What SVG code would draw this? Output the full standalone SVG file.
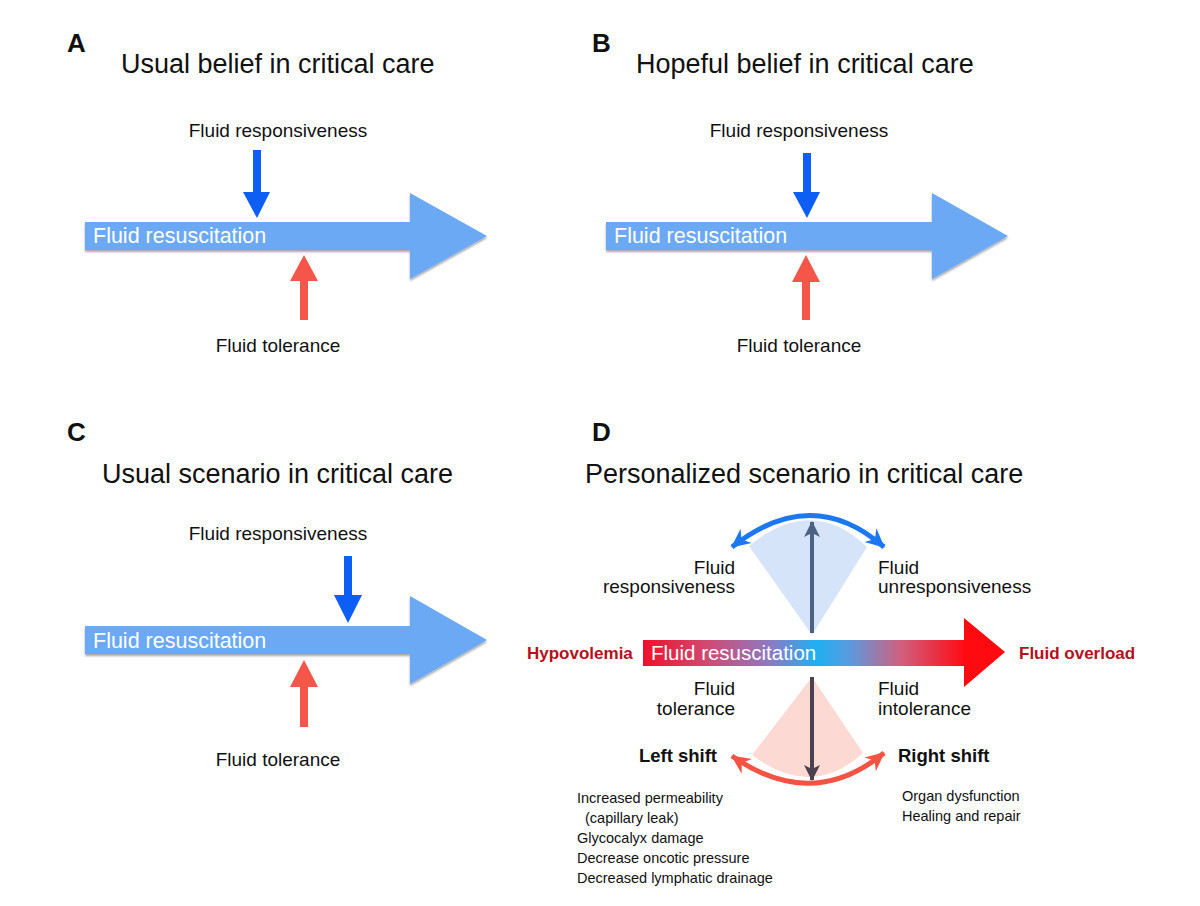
<svg xmlns="http://www.w3.org/2000/svg" width="1200" height="906" viewBox="0 0 1200 906">
<defs>
<style>
text{font-family:"Liberation Sans",Arial,Helvetica,sans-serif;fill:#111}
.letter{font-size:26px;font-weight:bold}
.title{font-size:27px}
.lbl{font-size:19px}
.body{fill:#6ca9f5;filter:url(#sh)}
.bt{font-size:21.5px;fill:#fff}
.down{fill:#0d5ef3}
.up{fill:#f4574a}
.bold{font-size:17px;font-weight:bold;fill:#b5101c}
.shift{font-size:18.5px;font-weight:bold}
.small{font-size:14.5px}
</style>
<filter id="sh" x="-5%" y="-20%" width="110%" height="150%">
<feDropShadow dx="0" dy="2" stdDeviation="1" flood-color="#000" flood-opacity="0.35"/>
</filter>
<linearGradient id="grad" gradientUnits="userSpaceOnUse" x1="643" y1="0" x2="965" y2="0">
<stop offset="0" stop-color="#f0102a"/>
<stop offset="0.2" stop-color="#d04a72"/>
<stop offset="0.4" stop-color="#8a7cc4"/>
<stop offset="0.54" stop-color="#1eb0f2"/>
<stop offset="0.64" stop-color="#5a9ae0"/>
<stop offset="0.8" stop-color="#d0607e"/>
<stop offset="1" stop-color="#ff0a14"/>
</linearGradient>
<marker id="mb" viewBox="-20 -11 22 22" refX="0" refY="0" markerWidth="22" markerHeight="22" markerUnits="userSpaceOnUse" orient="auto-start-reverse">
<path d="M1,0 L-18,-9 L-12,0 L-18,9 Z" fill="#1c78f0"/>
</marker>
<marker id="mr" viewBox="-20 -11 22 22" refX="0" refY="0" markerWidth="22" markerHeight="22" markerUnits="userSpaceOnUse" orient="auto-start-reverse">
<path d="M1,0 L-18,-9 L-12,0 L-18,9 Z" fill="#f25444"/>
</marker>
<marker id="md1" viewBox="-18 -10 20 20" refX="0" refY="0" markerWidth="20" markerHeight="20" markerUnits="userSpaceOnUse" orient="auto">
<path d="M1,0 L-15,-8 L-11,0 L-15,8 Z" fill="#4b6283"/>
</marker>
<marker id="md2" viewBox="-18 -10 20 20" refX="0" refY="0" markerWidth="20" markerHeight="20" markerUnits="userSpaceOnUse" orient="auto">
<path d="M1,0 L-15,-8 L-11,0 L-15,8 Z" fill="#4b4250"/>
</marker>
</defs>
<rect width="1200" height="906" fill="#fff"/>

<g id="panelA">
<text class="letter" x="67" y="52">A</text>
<text class="title" x="121" y="73">Usual belief in critical care</text>
<g id="A-resuscitation">
<polygon class="body" points="85,222 410,222 410,193 487,236 410,279 410,250 85,250"/>
<text class="bt" x="93" y="243">Fluid resuscitation</text>
</g>
<g id="A-responsiveness">
<text class="lbl" x="278" y="137" text-anchor="middle">Fluid responsiveness</text>
</g>
<g id="A-tolerance">
<text class="lbl" x="278" y="352" text-anchor="middle">Fluid tolerance</text>
</g>
</g>

<g id="panelB">
<text class="letter" x="592" y="52">B</text>
<text class="title" x="636" y="73">Hopeful belief in critical care</text>
<g id="B-resuscitation">
<polygon class="body" points="606,222 932,222 932,193 1008,236 932,279 932,250 606,250"/>
<text class="bt" x="614" y="243">Fluid resuscitation</text>
</g>
<g id="B-responsiveness">
<text class="lbl" x="799" y="137" text-anchor="middle">Fluid responsiveness</text>
</g>
<g id="B-tolerance">
<text class="lbl" x="799" y="352" text-anchor="middle">Fluid tolerance</text>
</g>
</g>

<g id="panelC">
<text class="letter" x="67" y="441">C</text>
<text class="title" x="102" y="483">Usual scenario in critical care</text>
<g id="C-resuscitation">
<polygon class="body" points="85,626 410,626 410,596 487,640 410,684 410,654 85,654"/>
<text class="bt" x="93" y="648">Fluid resuscitation</text>
</g>
<g id="C-responsiveness">
<text class="lbl" x="278" y="540" text-anchor="middle">Fluid responsiveness</text>
</g>
<g id="C-tolerance">
<text class="lbl" x="278" y="766" text-anchor="middle">Fluid tolerance</text>
</g>
</g>

<g id="panelD">
<text class="letter" x="592" y="441">D</text>
<text class="title" x="585" y="483">Personalized scenario in critical care</text>
<g id="D-upperfan">
<path d="M812,635 L749,546 Q812,494 867,547 Z" fill="#d5e4f8"/>
</g>
<g id="D-lowerfan">
<path d="M812,677 L752,755 Q812,800 863,753 Z" fill="#fdd9d3"/>
</g>
<g id="D-resuscitation">
<rect x="643" y="640" width="324" height="26" fill="url(#grad)"/>
<polygon points="964,618 1005,652 964,687" fill="#ff0a10"/>
<text x="651" y="660" style="font-size:20.5px;fill:#fff">Fluid resuscitation</text>
</g>
<g id="D-hypovolemia"><text class="bold" x="527" y="659">Hypovolemia</text></g>
<g id="D-overload"><text class="bold" x="1019" y="659">Fluid overload</text></g>
<g id="D-responsiveness">
<text class="lbl" x="735" y="574" text-anchor="end">Fluid</text>
<text class="lbl" x="735" y="593" text-anchor="end">responsiveness</text>
</g>
<g id="D-unresponsiveness">
<text class="lbl" x="878" y="574">Fluid</text>
<text class="lbl" x="878" y="593">unresponsiveness</text>
</g>
<g id="D-tolerance">
<text class="lbl" x="735" y="695" text-anchor="end">Fluid</text>
<text class="lbl" x="735" y="715" text-anchor="end">tolerance</text>
</g>
<g id="D-intolerance">
<text class="lbl" x="878" y="695">Fluid</text>
<text class="lbl" x="878" y="715">intolerance</text>
</g>
<g id="D-leftshift">
<text class="shift" x="717" y="762" text-anchor="end">Left shift</text>
<text class="small" x="577" y="803">Increased permeability</text>
<text class="small" x="585" y="823">(capillary leak)</text>
<text class="small" x="577" y="843">Glycocalyx damage</text>
<text class="small" x="577" y="863">Decrease oncotic pressure</text>
<text class="small" x="577" y="883">Decreased lymphatic drainage</text>
</g>
<g id="D-rightshift">
<text class="shift" x="898" y="762">Right shift</text>
<text class="small" x="902" y="801">Organ dysfunction</text>
<text class="small" x="902" y="821">Healing and repair</text>
</g>
</g>

<g id="connectors">
<polygon class="down" points="253,150 261,150 261,192 270,192 257,218 243,192 253,192"/>
<polygon class="up" points="300,320 308,320 308,281 318,281 304,255 290,281 300,281"/>
<polygon class="down" points="803,153 811,153 811,192 820,192 807,218 793,192 803,192"/>
<polygon class="up" points="802,320 810,320 810,282 820,282 806,255 792,282 802,282"/>
<polygon class="down" points="344,556 352,556 352,595 362,595 348,623 334,595 344,595"/>
<polygon class="up" points="300,727 308,727 308,687 318,687 304,660 290,687 300,687"/>
<path d="M732,547 Q812,484 884,547" fill="none" stroke="#1c78f0" stroke-width="5" marker-start="url(#mb)" marker-end="url(#mb)"/>
<path d="M732,756 Q812,812 884,753" fill="none" stroke="#f25444" stroke-width="5" marker-start="url(#mr)" marker-end="url(#mr)"/>
<line x1="812" y1="633" x2="812" y2="522" stroke="#4b6283" stroke-width="4" marker-end="url(#md1)"/>
<line x1="812" y1="677" x2="812" y2="780" stroke="#4b4250" stroke-width="4" marker-end="url(#md2)"/>
</g>
</svg>
